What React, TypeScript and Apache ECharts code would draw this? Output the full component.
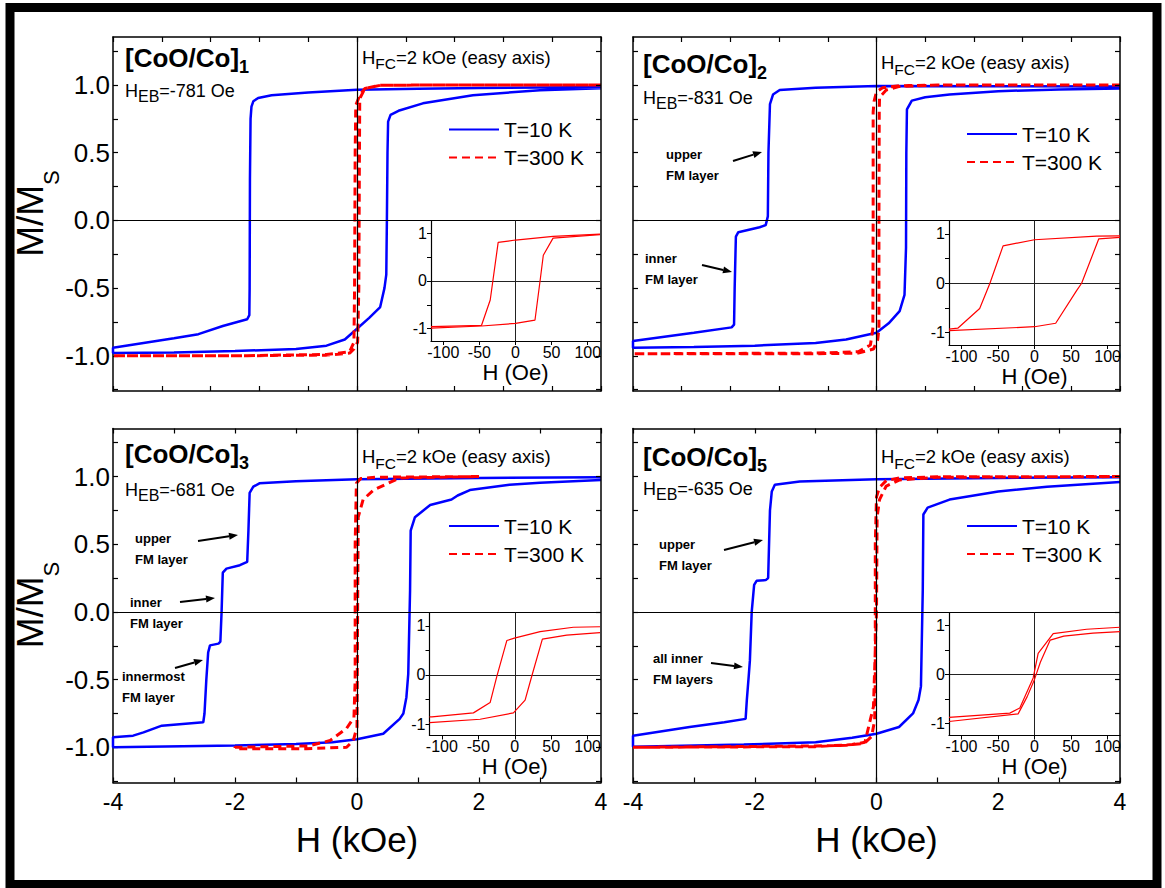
import { useEffect, useRef } from 'react';
import * as echarts from 'echarts';

// ---------------- tick / label values ----------------
const hTicksTop = [-4, -3.2, -2.4, -1.6, -0.8, 0, 0.8, 1.6, 2.4, 3.2, 4];
const hTicksBottom = [-4, -3, -2, -1, 0, 1, 2, 3, 4];
const hLabels = [-4, -2, 0, 2, 4];
const mTicks = [-1.25, -1, -0.75, -0.5, -0.25, 0, 0.25, 0.5, 0.75, 1, 1.25];
const mLabels = [-1, -0.5, 0, 0.5, 1];
const insetHLabels = [-100, -50, 0, 50, 100];
const insetMTicks = [-1, -0.5, 0, 0.5, 1];
const insetMLabels = [-1, 0, 1];

const seriesNames = ['T=10 K', 'T=300 K'];
const sampleSubs = ['1', '2', '3', '5'];
const hebValues = ['-781', '-831', '-681', '-635'];

// ---------------- data: [H (kOe), M/Ms] ----------------
const p1_10K_desc = [[4, 0.985], [3, 0.982], [2, 0.978], [1, 0.972], [0, 0.965], [-0.8, 0.945], [-1.4, 0.925], [-1.62, 0.905], [-1.7, 0.88], [-1.73, 0.84], [-1.745, 0.75], [-1.755, 0.3], [-1.76, -0.5], [-1.765, -0.7], [-1.8, -0.73], [-2.2, -0.78], [-2.6, -0.84], [-3.0, -0.87], [-3.5, -0.905], [-4, -0.94]];
const p1_10K_asc = [[-4, -0.98], [-3, -0.975], [-2, -0.965], [-1, -0.95], [-0.5, -0.925], [-0.2, -0.88], [0, -0.8], [0.2, -0.72], [0.38, -0.64], [0.45, -0.5], [0.48, -0.4], [0.49, 0], [0.5, 0.5], [0.51, 0.73], [0.55, 0.78], [0.68, 0.81], [1.08, 0.865], [1.9, 0.925], [3, 0.962], [4, 0.976]];
const p1_300K_desc = [[4, 1.0], [1, 1.0], [0.38, 0.998], [0.13, 0.975], [0.05, 0.93], [-0.02, 0.85], [-0.03, 0.5], [-0.035, 0], [-0.04, -0.5], [-0.05, -0.9], [-0.12, -0.97], [-0.5, -0.99], [-2, -1.0], [-4, -1.0]];
const p1_300K_asc = [[-4, -1.0], [-2, -1.0], [-0.5, -0.995], [-0.12, -0.98], [-0.05, -0.95], [0.01, -0.9], [0.03, -0.5], [0.035, 0], [0.04, 0.5], [0.045, 0.9], [0.13, 0.975], [0.38, 0.998], [1, 1.0], [4, 1.0]];
// inset: [H (Oe), M/Ms] at T=300 K
const p1_inset_desc = [[117, 0.985], [52, 0.935], [0, 0.86], [-24, 0.81], [-35, -0.4], [-47, -0.93], [-117, -0.96]];
const p1_inset_asc = [[-117, -0.99], [-47, -0.945], [0, -0.89], [27, -0.82], [34, 0], [38.5, 0.54], [52, 0.9], [117, 0.975]];

const p2_10K_desc = [[4, 0.99], [2, 0.992], [0, 0.993], [-1, 0.98], [-1.59, 0.963], [-1.7, 0.93], [-1.75, 0.86], [-1.775, 0.5], [-1.785, 0.03], [-1.82, -0.035], [-1.92, -0.05], [-2.27, -0.087], [-2.31, -0.12], [-2.33, -0.5], [-2.34, -0.77], [-2.38, -0.79], [-3, -0.83], [-4, -0.89]];
const p2_10K_asc = [[-4, -0.94], [-3, -0.935], [-2, -0.925], [-1, -0.905], [-0.5, -0.88], [0, -0.83], [0.2, -0.76], [0.38, -0.67], [0.46, -0.55], [0.485, -0.2], [0.49, 0.5], [0.5, 0.82], [0.58, 0.885], [0.8, 0.91], [1.2, 0.93], [2, 0.955], [3, 0.968], [4, 0.975]];
const p2_300K_desc = [[4, 1.0], [1, 1.0], [0.38, 0.995], [0.1, 0.98], [0, 0.95], [-0.04, 0.88], [-0.055, 0.8], [-0.055, 0], [-0.06, -0.8], [-0.1, -0.92], [-0.3, -0.97], [-1, -0.98], [-4, -0.985]];
const p2_300K_asc = [[-4, -0.99], [-1, -0.985], [-0.3, -0.98], [-0.05, -0.95], [0.02, -0.88], [0.04, -0.8], [0.04, 0], [0.045, 0.8], [0.05, 0.91], [0.16, 0.963], [0.38, 0.99], [1, 1.0], [4, 1.0]];
const p2_inset_desc = [[117, 0.96], [85, 0.955], [0, 0.88], [-43, 0.757], [-61, 0], [-75, -0.51], [-105, -0.91], [-117, -0.93]];
const p2_inset_asc = [[-117, -0.96], [0, -0.88], [29, -0.81], [57.6, -0.15], [64.5, 0], [88, 0.9], [117, 0.93]];

const p3_10K_desc = [[4, 0.995], [2, 0.99], [0, 0.98], [-1, 0.965], [-1.6, 0.95], [-1.7, 0.925], [-1.76, 0.88], [-1.78, 0.6], [-1.8, 0.37], [-1.92, 0.345], [-2.14, 0.32], [-2.2, 0.29], [-2.22, 0], [-2.24, -0.22], [-2.27, -0.234], [-2.41, -0.247], [-2.44, -0.3], [-2.47, -0.5], [-2.5, -0.75], [-2.52, -0.815], [-3.2, -0.84], [-3.5, -0.89], [-3.67, -0.914], [-4, -0.926]];
const p3_10K_asc = [[-4, -1.0], [-2, -0.987], [-1, -0.975], [-0.4, -0.963], [0, -0.94], [0.43, -0.9], [0.7, -0.79], [0.76, -0.75], [0.81, -0.63], [0.84, -0.46], [0.87, 0.16], [0.88, 0.6], [0.95, 0.7], [1.2, 0.79], [1.55, 0.83], [1.65, 0.86], [1.85, 0.9], [2.5, 0.94], [3, 0.955], [4, 0.975]];
const p3_300K_desc = [[2, 1.0], [0.3, 0.995], [0.06, 0.985], [-0.01, 0.95], [-0.03, 0.5], [-0.03, -0.5], [-0.05, -0.78], [-0.17, -0.86], [-0.44, -0.95], [-0.8, -0.99], [-2, -1.0]];
const p3_300K_asc = [[-2, -1.01], [-0.83, -1.01], [-0.17, -1.0], [-0.06, -0.95], [0, -0.85], [0.01, 0], [0.02, 0.7], [0.1, 0.83], [0.27, 0.9], [0.7, 0.99], [2, 1.0]];
const p3_inset_desc = [[117, 0.98], [80.4, 0.97], [34.8, 0.88], [-0.5, 0.75], [-10.9, 0.7], [-24.6, -0.03], [-33.8, -0.56], [-56.7, -0.77], [-113.7, -0.85], [-117, -0.85]];
const p3_inset_asc = [[-117, -0.97], [-47.5, -0.9], [-1.8, -0.77], [14.2, -0.51], [23.4, -0.02], [37.9, 0.73], [71.3, 0.81], [117, 0.86]];

const p4_10K_desc = [[4, 0.995], [2, 0.99], [0, 0.98], [-1.26, 0.963], [-1.67, 0.94], [-1.72, 0.89], [-1.75, 0.75], [-1.78, 0.25], [-1.82, 0.235], [-1.97, 0.23], [-2.01, 0.2], [-2.05, 0], [-2.08, -0.36], [-2.1, -0.48], [-2.13, -0.65], [-2.15, -0.79], [-2.5, -0.815], [-3.07, -0.85], [-4, -0.915]];
const p4_10K_asc = [[-4, -0.995], [-2.18, -0.98], [-1, -0.963], [-0.4, -0.93], [0, -0.9], [0.37, -0.85], [0.6, -0.75], [0.69, -0.65], [0.73, -0.55], [0.76, 0.16], [0.77, 0.72], [0.84, 0.77], [1.2, 0.83], [2, 0.89], [2.8, 0.925], [4, 0.96]];
const p4_300K_desc = [[4, 1.0], [1, 0.998], [0.38, 0.99], [0.16, 0.97], [0.05, 0.92], [0, 0.85], [-0.02, 0.5], [-0.02, -0.5], [-0.03, -0.8], [-0.08, -0.92], [-0.2, -0.97], [-0.5, -0.985], [-1, -0.99], [-4, -1.0]];
const p4_300K_asc = [[-4, -1.0], [-1, -0.995], [-0.4, -0.98], [-0.19, -0.963], [-0.13, -0.85], [-0.05, -0.7], [0, 0], [0.01, 0.7], [0.05, 0.83], [0.16, 0.93], [0.38, 0.975], [1, 0.995], [4, 1.0]];
const p4_inset_a = [[-117, -0.87], [-33.8, -0.785], [-20.1, -0.68], [-1.8, -0.07], [5, 0.43], [25.6, 0.83], [71.3, 0.92], [117, 0.96]];
const p4_inset_b = [[-117, -0.955], [-22.4, -0.8], [-10, -0.45], [0, -0.1], [8, 0.25], [21.5, 0.7], [40, 0.78], [80, 0.84], [117, 0.87]];

// ---------------- layout / styling ----------------
const FONT = "'Liberation Sans', Arial, Helvetica, sans-serif";
const BLUE = '#0000ff';
const RED = '#ff0000';

const panels = [
  {
    grid: { left: 113, top: 37, width: 488, height: 354 }, xTicks: hTicksTop, xLab: false, yLab: true,
    blue: [p1_10K_desc, p1_10K_asc], red: [p1_300K_desc, p1_300K_asc],
    inset: { left: 431, top: 220.5, width: 169, height: 120.5, yMin: -1.26, yMax: 1.27, curves: [p1_inset_desc, p1_inset_asc] },
    title: [125, 57.5], heb: [125, 90.8], hfc: [362, 57.5], legend: [448, 119],
  },
  {
    grid: { left: 633, top: 37, width: 487, height: 354 }, xTicks: hTicksTop, xLab: false, yLab: false,
    blue: [p2_10K_desc, p2_10K_asc], red: [p2_300K_desc, p2_300K_asc],
    inset: { left: 949, top: 220.5, width: 171, height: 124.5, yMin: -1.25, yMax: 1.27, curves: [p2_inset_desc, p2_inset_asc] },
    title: [643, 64.2], heb: [643, 98.3], hfc: [881, 63], legend: [966, 123.5],
  },
  {
    grid: { left: 113, top: 428.5, width: 488, height: 354 }, xTicks: hTicksBottom, xLab: true, yLab: true,
    blue: [p3_10K_desc, p3_10K_asc], red: [p3_300K_desc, p3_300K_asc],
    inset: { left: 429.5, top: 612.5, width: 170.5, height: 123, yMin: -1.23, yMax: 1.27, curves: [p3_inset_desc, p3_inset_asc] },
    title: [125, 454.2], heb: [125, 490], hfc: [362, 457], legend: [448, 515.5],
  },
  {
    grid: { left: 633, top: 428.5, width: 487, height: 354 }, xTicks: hTicksBottom, xLab: true, yLab: false,
    blue: [p4_10K_desc, p4_10K_asc], red: [p4_300K_desc, p4_300K_asc],
    inset: { left: 949, top: 612.5, width: 171, height: 123, yMin: -1.24, yMax: 1.26, curves: [p4_inset_a, p4_inset_b] },
    title: [643, 456.7], heb: [643, 488.5], hfc: [881, 457], legend: [966, 515.5],
  },
];

const annotations = [
  { lines: ['upper', 'FM layer'], x: 666, y: 154, arrow: [733, 161, 762, 152] },
  { lines: ['inner', 'FM layer'], x: 645, y: 258, arrow: [702, 265, 732, 272] },
  { lines: ['upper', 'FM layer'], x: 135, y: 538, arrow: [198, 541, 238, 535] },
  { lines: ['inner', 'FM layer'], x: 130, y: 602, arrow: [180, 602, 215, 598] },
  { lines: ['innermost', 'FM layer'], x: 122, y: 676, arrow: [175, 668, 203, 660] },
  { lines: ['upper', 'FM layer'], x: 659, y: 544, arrow: [724, 550, 763, 540] },
  { lines: ['all inner', 'FM layers'], x: 653, y: 658, arrow: [711, 663, 743, 667] },
];

function subText(x: number, yc: number, parts: [string, string][], mainSize: number, subSize: number, offset: number, weight: string) {
  const LH = subSize + 2 * offset;
  return {
    type: 'text', x, y: yc - LH / 2, z: 20, silent: true,
    style: {
      text: parts.map(([t, k]) => `{${k}|${t}}`).join(''),
      align: 'left', verticalAlign: 'top',
      rich: {
        m: { fontSize: mainSize, fontWeight: weight, fontFamily: FONT, fill: '#000', lineHeight: LH },
        s: { fontSize: subSize, fontWeight: weight, fontFamily: FONT, fill: '#000', lineHeight: subSize, verticalAlign: 'bottom' },
      },
    },
  };
}

function arrow(x1: number, y1: number, x2: number, y2: number) {
  const a = Math.atan2(y2 - y1, x2 - x1);
  const L = 9, w = 3.5;
  const bx = x2 - L * Math.cos(a), by = y2 - L * Math.sin(a);
  return [
    { type: 'line', z: 20, silent: true, shape: { x1, y1, x2: bx, y2: by }, style: { stroke: '#000', lineWidth: 2 } },
    {
      type: 'polygon', z: 20, silent: true,
      shape: { points: [[x2, y2], [bx - w * Math.sin(a), by + w * Math.cos(a)], [bx + w * Math.sin(a), by - w * Math.cos(a)]] },
      style: { fill: '#000' },
    },
  ];
}

function buildOption() {
  const grid: any[] = [];
  const xAxis: any[] = [];
  const yAxis: any[] = [];
  const series: any[] = [];
  const legend: any[] = [];
  const elements: any[] = [];

  const axisLine = { show: true, onZero: false, lineStyle: { color: '#000', width: 1.5 } };
  const tickStyle = { color: '#000', width: 1.2 };

  panels.forEach((p, i) => {
    const gMain = 2 * i, gIn = 2 * i + 1;
    const xb = xAxis.length, yl = yAxis.length;
    grid.push({ ...p.grid, show: false, containLabel: false, outerBoundsMode: 'none' });
    grid.push({
      left: p.inset.left, top: p.inset.top, width: p.inset.width, height: p.inset.height,
      show: true, backgroundColor: '#fff', borderWidth: 0, containLabel: false, outerBoundsMode: 'none', z: 5,
    });

    // main x axes (bottom, mirrored top)
    xAxis.push({
      type: 'value', gridIndex: gMain, position: 'bottom', min: -4, max: 4,
      axisLine, splitLine: { show: false },
      axisTick: { show: true, inside: true, length: 5, customValues: p.xTicks, lineStyle: tickStyle },
      axisLabel: { show: p.xLab, customValues: hLabels, fontSize: 23, margin: 8, color: '#000', fontFamily: FONT, showMinLabel: true, showMaxLabel: true },
      name: p.xLab ? 'H (kOe)' : '', nameLocation: 'middle', nameGap: 39, nameMoveOverlap: false,
      nameTextStyle: { fontSize: 35, color: '#000', fontFamily: FONT },
    });
    xAxis.push({
      type: 'value', gridIndex: gMain, position: 'top', min: -4, max: 4,
      axisLine, splitLine: { show: false },
      axisTick: { show: true, inside: true, length: 5, customValues: p.xTicks, lineStyle: tickStyle },
      axisLabel: { show: false },
    });
    // inset x axis
    xAxis.push({
      type: 'value', gridIndex: gIn, position: 'bottom', min: -117, max: 117, z: 6,
      axisLine: { show: true, onZero: false, lineStyle: { color: '#000', width: 1.2 } }, splitLine: { show: false },
      axisTick: { show: true, inside: false, length: 4, customValues: insetHLabels, lineStyle: { color: '#000', width: 1 } },
      axisLabel: { show: true, customValues: insetHLabels, fontSize: 16, margin: 3, color: '#000', fontFamily: FONT, showMinLabel: true, showMaxLabel: true },
      name: 'H (Oe)', nameLocation: 'middle', nameGap: 20, nameMoveOverlap: false,
      nameTextStyle: { fontSize: 22, color: '#000', fontFamily: FONT },
    });

    // main y axes (left, mirrored right)
    yAxis.push({
      type: 'value', gridIndex: gMain, position: 'left', min: -1.26, max: 1.355,
      axisLine, splitLine: { show: false },
      axisTick: { show: true, inside: true, length: 5, customValues: mTicks, lineStyle: tickStyle },
      axisLabel: {
        show: p.yLab, customValues: mLabels, fontSize: 26, margin: 3, color: '#000', fontFamily: FONT,
        formatter: (v: number) => (Math.abs(v) < 1e-9 ? '0.0' : v.toFixed(1)),
      },
    });
    yAxis.push({
      type: 'value', gridIndex: gMain, position: 'right', min: -1.26, max: 1.355, z: 8,
      axisLine, splitLine: { show: false },
      axisTick: { show: true, inside: true, length: 5, customValues: mTicks, lineStyle: tickStyle },
      axisLabel: { show: false },
    });
    // inset y axis
    yAxis.push({
      type: 'value', gridIndex: gIn, position: 'left', min: p.inset.yMin, max: p.inset.yMax, z: 6,
      axisLine: { show: true, onZero: false, lineStyle: { color: '#000', width: 1.2 } }, splitLine: { show: false },
      axisTick: { show: true, inside: false, length: 4, customValues: insetMTicks, lineStyle: { color: '#000', width: 1 } },
      axisLabel: { show: true, customValues: insetMLabels, fontSize: 16, margin: 4, color: '#000', fontFamily: FONT },
    });

    // zero lines of main panel
    series.push({
      type: 'line', xAxisIndex: xb, yAxisIndex: yl, data: [], z: 1, silent: true,
      markLine: {
        silent: true, symbol: ['none', 'none'], label: { show: false }, animation: false,
        lineStyle: { color: '#000', width: 1.2, type: 'solid' },
        emphasis: { disabled: true },
        data: [{ xAxis: 0 }, { yAxis: 0 }],
      },
    });
    series.push({
      name: seriesNames[0], type: 'line', xAxisIndex: xb, yAxisIndex: yl, z: 3,
      data: [...p.blue[0], ...p.blue[1]], symbol: 'none', showSymbol: false, clip: true,
      lineStyle: { color: BLUE, width: 2.5 }, itemStyle: { color: BLUE },
    });
    series.push({
      name: seriesNames[1], type: 'line', xAxisIndex: xb, yAxisIndex: yl, z: 4,
      data: [...p.red[0], ...p.red[1]], symbol: 'none', showSymbol: false, clip: true,
      lineStyle: { color: RED, width: 3, type: [8, 5] }, itemStyle: { color: RED },
    });

    // inset zero lines + curves
    series.push({
      type: 'line', xAxisIndex: xb + 2, yAxisIndex: yl + 2, data: [], z: 7, silent: true,
      markLine: {
        silent: true, symbol: ['none', 'none'], label: { show: false }, animation: false,
        lineStyle: { color: '#222', width: 1, type: 'solid' },
        emphasis: { disabled: true },
        data: [{ xAxis: 0 }, { yAxis: 0 }],
      },
    });
    p.inset.curves.forEach((c) => {
      series.push({
        name: 'inset', type: 'line', xAxisIndex: xb + 2, yAxisIndex: yl + 2, z: 8,
        data: c, symbol: 'none', showSymbol: false, clip: true,
        lineStyle: { color: RED, width: 1.2 }, itemStyle: { color: RED },
      });
    });

    legend.push({
      data: seriesNames, orient: 'vertical', left: p.legend[0], top: p.legend[1],
      itemWidth: 50, itemHeight: 2, itemGap: 7, padding: 0, selectedMode: false, z: 10,
      itemStyle: { opacity: 0 },
      textStyle: { fontSize: 21, color: '#000', fontFamily: FONT },
    });

    elements.push(subText(p.title[0], p.title[1], [['[CoO/Co]', 'm'], [sampleSubs[i], 's']], 26, 18, 9, 'bold'));
    elements.push(subText(p.heb[0], p.heb[1], [['H', 'm'], ['EB', 's'], [`=${hebValues[i]} Oe`, 'm']], 18, 16, 5.5, 'normal'));
    elements.push(subText(p.hfc[0], p.hfc[1], [['H', 'm'], ['FC', 's'], ['=2 kOe (easy axis)', 'm']], 18.5, 15.5, 6.3, 'normal'));
  });

  // y axis titles M/Ms
  [213.5, 605].forEach((yc) => {
    elements.push({
      type: 'text', x: 30, y: yc, rotation: Math.PI / 2, z: 20, silent: true,
      style: {
        text: '{m|M/M}{s|S}', align: 'center', verticalAlign: 'middle',
        rich: {
          m: { fontSize: 37, fontFamily: FONT, fill: '#000', lineHeight: 64 },
          s: { fontSize: 22, fontFamily: FONT, fill: '#000', lineHeight: 22, verticalAlign: 'bottom' },
        },
      },
    });
  });

  annotations.forEach((a) => {
    a.lines.forEach((t, k) => {
      elements.push({
        type: 'text', x: a.x, y: a.y + k * 21, z: 20, silent: true,
        style: { text: t, fontSize: 13, fontWeight: 'bold', fontFamily: FONT, fill: '#000', verticalAlign: 'middle', align: 'left' },
      });
    });
    elements.push(...arrow(a.arrow[0], a.arrow[1], a.arrow[2], a.arrow[3]));
  });

  // outer frame
  elements.push({
    type: 'rect', z: 30, silent: true,
    shape: { x: 10, y: 7.5, width: 1147, height: 877 },
    style: { fill: 'transparent', stroke: '#000', lineWidth: 9 },
  });

  return {
    animation: false,
    backgroundColor: '#fff',
    textStyle: { fontFamily: FONT },
    grid, xAxis, yAxis, series, legend,
    graphic: { elements },
  };
}

export default function App() {
  const ref = useRef<HTMLDivElement>(null);
  useEffect(() => {
    if (!ref.current) return;
    const chart = echarts.init(ref.current, null, { renderer: 'svg', width: 1165, height: 888 });
    chart.setOption(buildOption() as any);
    return () => chart.dispose();
  }, []);
  return <div ref={ref} style={{ position: 'fixed', left: 0, top: 0, width: 1165, height: 888, background: '#fff' }} />;
}
